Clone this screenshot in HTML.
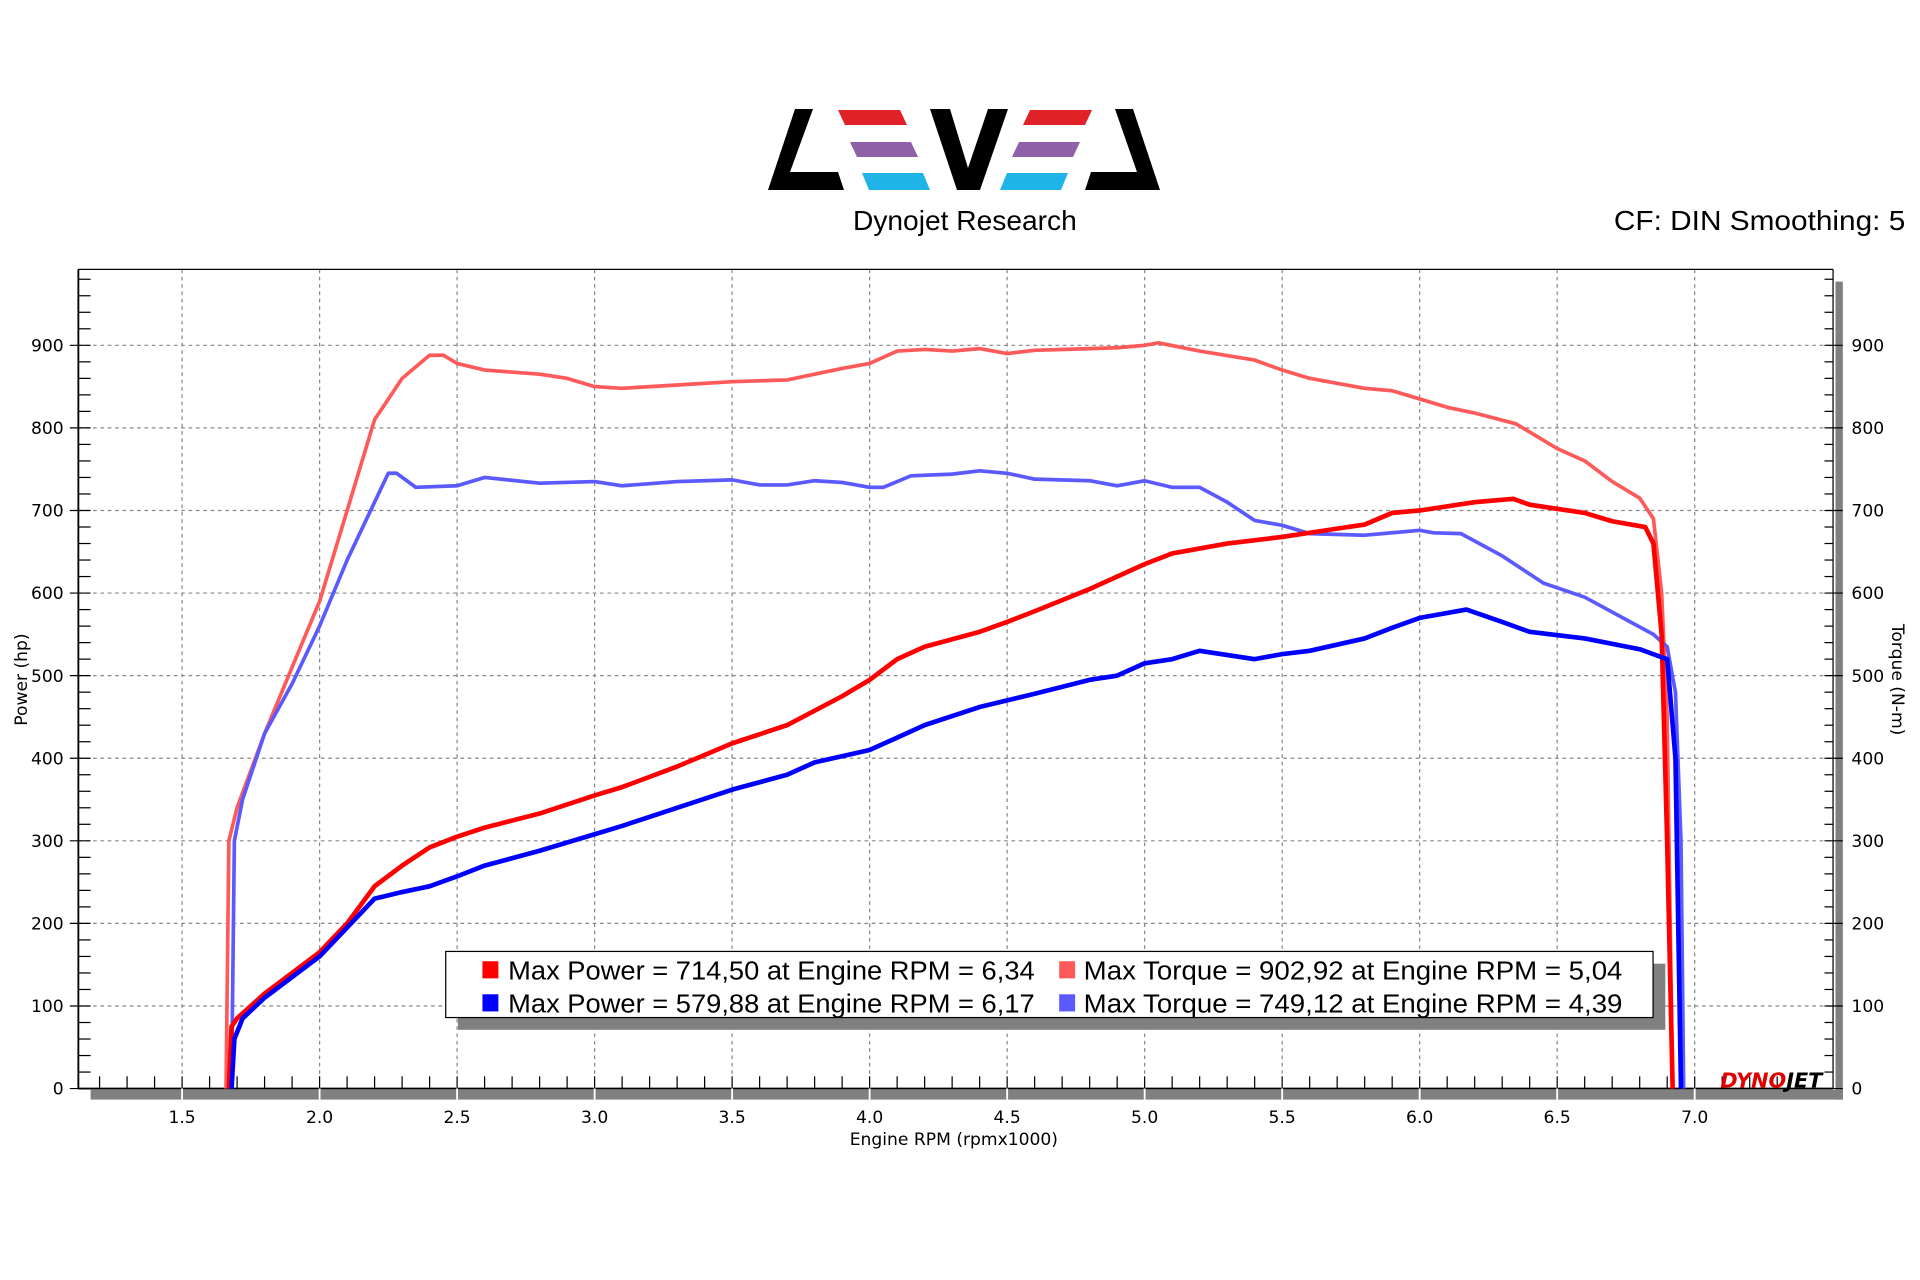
<!DOCTYPE html>
<html><head><meta charset="utf-8"><style>
html,body{margin:0;padding:0;background:#fff;width:1920px;height:1280px;overflow:hidden}
svg{display:block}
text{font-family:"DejaVu Sans","Liberation Sans",sans-serif}
</style></head><body>
<svg id="s" width="1920" height="1280" viewBox="0 0 1568 1045.33" xmlns="http://www.w3.org/2000/svg">
<rect x="0" y="0" width="1568" height="1046" fill="#fff"/>
<g transform="scale(0.81667)">
<polygon points="795,109 813,109 790,172 838,172 844,190 768,190" fill="#000"/>
<polygon points="930,109 950,109 968,168 988,109 1008,109 980,190 957,190" fill="#000"/>
<polygon points="1115,109 1133,109 1160,190 1085,190 1091,172 1137,172" fill="#000"/>
<polygon points="838,110 900,110 907,125 845,125" fill="#e02228"/>
<polygon points="1030,110 1092,110 1085,125 1023,125" fill="#e02228"/>
<polygon points="850,142 911,142 918,157 857,157" fill="#9060a8"/>
<polygon points="1019,142 1080,142 1073,157 1012,157" fill="#9060a8"/>
<polygon points="862,173 923,173 930,190 869,190" fill="#1eb4e8"/>
<polygon points="1007,173 1068,173 1061,190 1000,190" fill="#1eb4e8"/>
</g>
<text x="788" y="188" font-size="23" text-anchor="middle" style="font-family:'Liberation Sans',sans-serif">Dynojet Research</text>
<text x="1318" y="188" font-size="23" textLength="238" lengthAdjust="spacingAndGlyphs" style="font-family:'Liberation Sans',sans-serif">CF: DIN Smoothing: 5</text>
<g id="grid"></g>
<g id="curves"></g>
<rect x="374" y="787" width="986" height="54" fill="#808080"/>
<rect x="364" y="777" width="986" height="54" fill="#fff" stroke="#000" stroke-width="1"/>
<rect x="394" y="785" width="13" height="14" fill="#ff0000"/>
<rect x="394" y="812" width="13" height="14" fill="#0000ff"/>
<rect x="865" y="785" width="13" height="14" fill="#ff5a5a"/>
<rect x="865" y="812" width="13" height="14" fill="#5a5aff"/>
<g font-size="21.5">
<text x="415" y="800" textLength="430" lengthAdjust="spacingAndGlyphs" style="font-family:'Liberation Sans',sans-serif">Max Power = 714,50 at Engine RPM = 6,34</text>
<text x="415" y="827" textLength="430" lengthAdjust="spacingAndGlyphs" style="font-family:'Liberation Sans',sans-serif">Max Power = 579,88 at Engine RPM = 6,17</text>
<text x="885" y="800" textLength="440" lengthAdjust="spacingAndGlyphs" style="font-family:'Liberation Sans',sans-serif">Max Torque = 902,92 at Engine RPM = 5,04</text>
<text x="885" y="827" textLength="440" lengthAdjust="spacingAndGlyphs" style="font-family:'Liberation Sans',sans-serif">Max Torque = 749,12 at Engine RPM = 4,39</text>
</g>
<text x="1405" y="888" font-size="17" font-weight="bold" font-style="italic"><tspan fill="#e00000">DYNO</tspan><tspan fill="#000">JET</tspan></text>
<text x="779" y="935" font-size="14" text-anchor="middle">Engine RPM (rpmx1000)</text>
<text transform="translate(22,555) rotate(-90)" font-size="14" text-anchor="middle">Power (hp)</text>
<text transform="translate(1545,555) rotate(90)" font-size="14" text-anchor="middle">Torque (N-m)</text>
</svg>
<script>
var NS="http://www.w3.org/2000/svg";
function X(r){return 261+(r-2)*224.6}
function Y(v){return 889-v*0.67444}
function el(p,t,a){var e=document.createElementNS(NS,t);for(var k in a)e.setAttribute(k,a[k]);p.appendChild(e);return e}
var g=document.getElementById('grid');
for(var v=100;v<=900;v+=100){el(g,'line',{x1:64,x2:1497,y1:Y(v),y2:Y(v),stroke:'#888','stroke-dasharray':'3,3'});}
for(var r=1.5;r<=7.01;r+=0.5){el(g,'line',{x1:X(r),x2:X(r),y1:220,y2:889,stroke:'#888','stroke-dasharray':'3,3'});}
el(g,'line',{x1:64,x2:1497,y1:220,y2:220,stroke:'#000'});
el(g,'line',{x1:64,x2:64,y1:220,y2:889,stroke:'#000','stroke-width':1.5});
el(g,'line',{x1:1497,x2:1497,y1:220,y2:889,stroke:'#000'});
el(g,'rect',{x:1499,y:230,width:6,height:668,fill:'#808080'});
el(g,'rect',{x:74,y:890,width:1431,height:8,fill:'#808080'});
el(g,'line',{x1:64,x2:1497,y1:889,y2:889,stroke:'#000','stroke-width':1.5});
for(var v=0;v<=980;v+=20){var y=Y(v);if(y<222)break;var maj=v%100==0;
 el(g,'line',{x1:maj?57:64,x2:74,y1:y,y2:y,stroke:'#000'});
 el(g,'line',{x1:1490,x2:maj?1505:1497,y1:y,y2:y,stroke:'#000'});
 if(maj){var t=el(g,'text',{x:52,y:y+5,'font-size':14,'text-anchor':'end'});t.textContent=v;
 var t2=el(g,'text',{x:1512,y:y+5,'font-size':14});t2.textContent=v;}}
for(var i=12;i<=73;i++){var r=i/10,x=X(r);if(x>1497)break;var maj=i%5==0;
 el(g,'line',{x1:x,x2:x,y1:879,y2:maj?898:889,stroke:maj?'#fff':'#000','stroke-width':maj?1.5:1});
 if(maj){el(g,'line',{x1:x,x2:x,y1:879,y2:889,stroke:'#000'});
 var t=el(g,'text',{x:x,y:917,'font-size':14,'text-anchor':'middle'});t.textContent=r.toFixed(1);}}
function P(a,col,w){var d='';for(var i=0;i<a.length;i+=2){d+=(i?'L':'M')+X(a[i]).toFixed(1)+','+Y(a[i+1]).toFixed(1);}
 el(document.getElementById('curves'),'path',{d:d,fill:'none',stroke:col,'stroke-width':w,'stroke-linejoin':'round'});}
P([1.66,0,1.67,300,1.7,340,1.8,430,1.9,510,2.0,590,2.1,700,2.2,810,2.3,860,2.4,888,2.45,888,2.5,878,2.6,870,2.8,865,2.9,860,3.0,850,3.1,848,3.3,852,3.5,856,3.7,858,3.9,872,4.0,878,4.1,893,4.2,895,4.3,893,4.4,896,4.5,890,4.6,894,4.8,896,4.9,897,5.0,900,5.05,903,5.2,893,5.4,882,5.5,870,5.6,860,5.8,848,5.9,845,6.0,835,6.1,825,6.2,818,6.35,805,6.5,775,6.6,760,6.7,735,6.8,715,6.85,690,6.88,600,6.9,450,6.92,0],'#ff5a5a',3);
P([1.68,0,1.69,300,1.72,350,1.8,430,1.9,490,2.0,560,2.1,640,2.2,710,2.25,745,2.28,745,2.35,728,2.5,730,2.6,740,2.8,733,3.0,735,3.1,730,3.3,735,3.5,737,3.6,731,3.7,731,3.8,736,3.9,734,4.0,728,4.05,728,4.15,742,4.3,744,4.4,748,4.5,745,4.6,738,4.8,736,4.9,730,5.0,736,5.1,728,5.2,728,5.3,710,5.4,688,5.5,682,5.6,672,5.8,670,6.0,676,6.05,673,6.15,672,6.3,645,6.45,612,6.6,595,6.75,568,6.85,550,6.9,535,6.93,480,6.95,300,6.96,0],'#5a5aff',3);
P([1.67,0,1.68,75,1.7,85,1.8,115,1.9,140,2.0,165,2.1,200,2.2,245,2.3,270,2.4,292,2.5,305,2.6,316,2.8,333,3.0,355,3.1,365,3.3,390,3.5,418,3.7,440,3.9,475,4.0,495,4.1,520,4.2,535,4.4,553,4.5,565,4.6,578,4.8,605,5.0,635,5.1,648,5.3,660,5.5,668,5.7,678,5.8,683,5.9,697,6.0,700,6.2,710,6.34,714,6.4,707,6.6,697,6.7,687,6.82,680,6.85,660,6.88,550,6.9,300,6.92,0],'#ff0000',3.8);
P([1.68,0,1.69,60,1.72,85,1.8,110,1.9,135,2.0,160,2.1,195,2.2,230,2.3,238,2.4,245,2.5,257,2.6,270,2.8,288,3.0,308,3.1,318,3.3,340,3.5,362,3.7,380,3.8,395,4.0,410,4.1,425,4.2,440,4.4,462,4.6,478,4.8,495,4.9,500,5.0,515,5.1,520,5.2,530,5.4,520,5.5,526,5.6,530,5.8,545,5.9,558,6.0,570,6.17,580,6.3,565,6.4,553,6.6,545,6.8,532,6.9,520,6.93,400,6.95,0],'#0000ff',3.8);
</script>
</body></html>
